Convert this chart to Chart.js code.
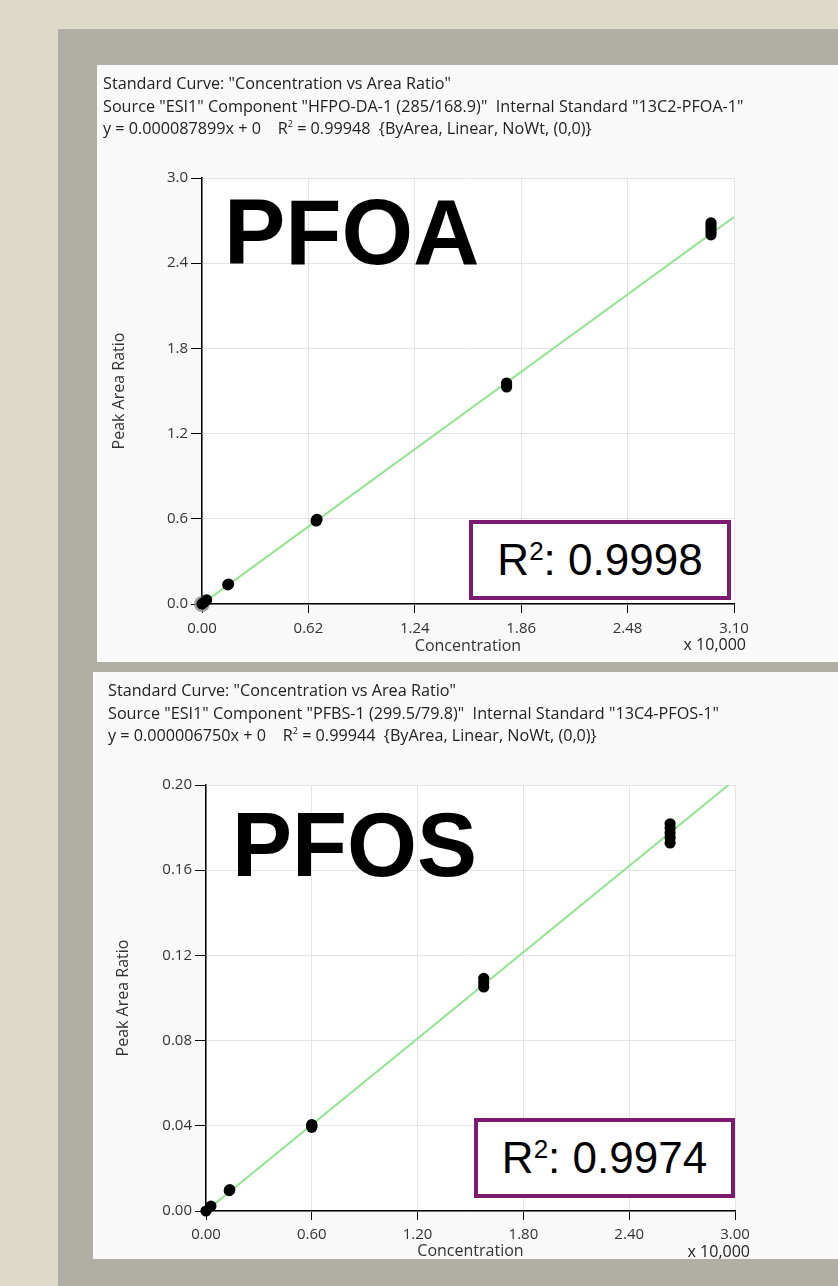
<!DOCTYPE html>
<html>
<head>
<meta charset="utf-8">
<script src="https://cdn.jsdelivr.net/npm/chart.js@4.4.1/dist/chart.umd.min.js"></script>
<style>
  html, body { margin:0; padding:0; }
  body { width:838px; height:1286px; background:#dddac9; position:relative; overflow:hidden; font-family:"Open Sans", "Noto Sans", sans-serif; }
  #gray { position:absolute; left:58px; top:29px; width:780px; height:1257px; background:#b1aea6; }
  .panel { position:absolute; background:#f9f9f9; }
  .panel canvas { position:absolute; left:0; top:0; }
  .hdr { position:absolute; font-size:16.2px; line-height:22.5px; color:#222; white-space:pre; }
  .hdr .s2 { font-size:9px; position:relative; top:-7px; line-height:0; }
  .big { position:absolute; font-family:"Liberation Sans", Arial, sans-serif; font-weight:bold; line-height:1; color:#000; white-space:pre; }
  .rbox { position:absolute; box-sizing:border-box; border:4px solid #7c1a70; background:#fff; font-family:"Liberation Sans", Arial, sans-serif; font-size:44px; color:#000; display:flex; align-items:center; justify-content:center; }
  .rbox .sup { font-size:26px; position:relative; top:-15px; line-height:0; }
  .mult { position:absolute; font-size:16px; line-height:20px; color:#222; white-space:pre; text-align:right; }
</style>
</head>
<body>
<div id="gray"></div>

<div class="panel" id="p1" style="left:97px; top:65px; width:741px; height:597px;">
  <canvas id="c1" width="741" height="597"></canvas>
  <div class="hdr" style="left:6px; top:7px;">Standard Curve: "Concentration vs Area Ratio"
Source "ESI1" Component "HFPO-DA-1 (285/168.9)"  Internal Standard "13C2-PFOA-1"
y = 0.000087899x + 0    R<span class="s2">2</span> = 0.99948  {ByArea, Linear, NoWt, (0,0)}</div>
</div>

<div class="panel" id="p2" style="left:93px; top:672px; width:745px; height:587px;">
  <canvas id="c2" width="745" height="587"></canvas>
  <div class="hdr" style="left:15px; top:7px;">Standard Curve: "Concentration vs Area Ratio"
Source "ESI1" Component "PFBS-1 (299.5/79.8)"  Internal Standard "13C4-PFOS-1"
y = 0.000006750x + 0    R<span class="s2">2</span> = 0.99944  {ByArea, Linear, NoWt, (0,0)}</div>
</div>

<div class="big" style="left:224px; top:186px; font-size:92px;">PFOA</div>
<div class="big" style="left:232px; top:800px; font-size:90px;">PFOS</div>

<div class="rbox" style="left:469px; top:520px; width:262px; height:80px;"><span>R<span class="sup">2</span>: 0.9998</span></div>
<div class="rbox" style="left:474px; top:1118px; width:261px; height:80px;"><span>R<span class="sup">2</span>: 0.9974</span></div>

<div class="mult" style="left:620px; top:634px; width:126px;">x 10,000</div>
<div class="mult" style="left:624px; top:1241px; width:126px;">x 10,000</div>

<script>
// ---------- data (concentration in units of x 10,000) ----------
const pfoaConc  = [0, 0.010, 0.027, 0.150, 0.155, 0.665, 0.668, 0.670, 1.775, 1.775, 1.775, 2.966, 2.966, 2.966, 2.966, 2.966];
const pfoaRatio = [0, 0.010, 0.030, 0.135, 0.141, 0.585, 0.590, 0.597, 1.528, 1.542, 1.556, 2.600, 2.622, 2.645, 2.665, 2.685];
const pfoaFitX  = [0, 3.10];
const pfoaFitY  = [0, 2.725];
const pfoaXTicks = [0, 0.62, 1.24, 1.86, 2.48, 3.10];
const pfoaYTicks = [0, 0.6, 1.2, 1.8, 2.4, 3.0];

const pfosConc  = [0, 0.028, 0.132, 0.135, 0.600, 0.600, 0.600, 1.575, 1.575, 1.575, 2.632, 2.632, 2.632, 2.632, 2.632];
const pfosRatio = [0, 0.0023, 0.0096, 0.0100, 0.0393, 0.0400, 0.0406, 0.1052, 0.1072, 0.1092, 0.1728, 0.1752, 0.1775, 0.1798, 0.1818];
const pfosFitX  = [0, 2.963];
const pfosFitY  = [0, 0.200];
const pfosXTicks = [0, 0.60, 1.20, 1.80, 2.40, 3.00];
const pfosYTicks = [0, 0.04, 0.08, 0.12, 0.16, 0.20];

const pts = (xs, ys) => xs.map((x, i) => ({x, y: ys[i]}));

const areaFill = {
  id: 'areaFill',
  beforeDraw(chart) {
    const {ctx, chartArea: a} = chart;
    ctx.save(); ctx.fillStyle = '#ffffff';
    ctx.fillRect(a.left, a.top, a.right - a.left, a.bottom - a.top);
    ctx.restore();
  }
};

function makeChart(id, cfg) {
  const fam = '"Open Sans", "Noto Sans", sans-serif';
  const tickFont = {family: fam, size: 15};
  new Chart(document.getElementById(id), {
    type: 'scatter',
    data: {
      datasets: [
        { data: pts(cfg.xs, cfg.ys), backgroundColor: '#000', borderColor: '#000', pointRadius: 5.6, pointBorderWidth: 0, clip: false, order: 0 },
        { data: [{x: 0, y: 0}], backgroundColor: 'rgba(140,140,140,0.8)', borderWidth: 0, pointRadius: cfg.halo ? 8 : 0, clip: false, order: 1 },
        { data: pts(cfg.fitX, cfg.fitY), showLine: true, borderColor: '#8fe58f', borderWidth: 2, pointRadius: 0, order: 2 }
      ]
    },
    options: {
      responsive: false, animation: false, events: [],
      layout: { padding: {left: 0, top: cfg.top, right: cfg.right, bottom: 0} },
      plugins: { legend: {display: false}, tooltip: {enabled: false} },
      scales: {
        x: {
          type: 'linear', min: cfg.xTicks[0], max: cfg.xTicks[cfg.xTicks.length - 1],
          afterBuildTicks: s => { s.ticks = cfg.xTicks.map(v => ({value: v})); },
          afterFit: s => { s.height = cfg.xH; },
          ticks: { callback: v => Number(v).toFixed(2), color: '#333', font: tickFont, padding: cfg.xTickPad, maxRotation: 0, autoSkip: false },
          grid: { color: '#e4e4e4', tickColor: '#000', tickLength: 9, lineWidth: 1 },
          border: { color: '#000', width: 1.5 },
          title: { display: true, text: 'Concentration', color: '#333', font: {family: fam, size: 16}, padding: {top: 0, bottom: cfg.xTitlePad} }
        },
        y: {
          type: 'linear', min: cfg.yTicks[0], max: cfg.yTicks[cfg.yTicks.length - 1],
          afterBuildTicks: s => { s.ticks = cfg.yTicks.map(v => ({value: v})); },
          afterFit: s => { s.width = cfg.yW; },
          ticks: { callback: v => Number(v).toFixed(cfg.yDec), color: '#333', font: tickFont, padding: 3, autoSkip: false },
          grid: { color: '#e4e4e4', tickColor: '#000', tickLength: 11, lineWidth: 1 },
          border: { color: '#000', width: 1.5 },
          title: { display: true, text: 'Peak Area Ratio', color: '#333', font: {family: fam, size: 16}, padding: {top: cfg.yTitlePad, bottom: 0} }
        }
      }
    },
    plugins: [areaFill]
  });
}

makeChart('c1', { xs: pfoaConc, ys: pfoaRatio, fitX: pfoaFitX, fitY: pfoaFitY, xTicks: pfoaXTicks, yTicks: pfoaYTicks,
  yDec: 1, top: 113, right: 104, yW: 105, xH: 58, xTitlePad: 6, yTitlePad: 13, xTickPad: 7, halo: true });
makeChart('c2', { xs: pfosConc, ys: pfosRatio, fitX: pfosFitX, fitY: pfosFitY, xTicks: pfosXTicks, yTicks: pfosYTicks,
  yDec: 2, top: 113, right: 103, yW: 113, xH: 48, xTitlePad: -2, yTitlePad: 21, xTickPad: 6, halo: false });
</script>
</body>
</html>
